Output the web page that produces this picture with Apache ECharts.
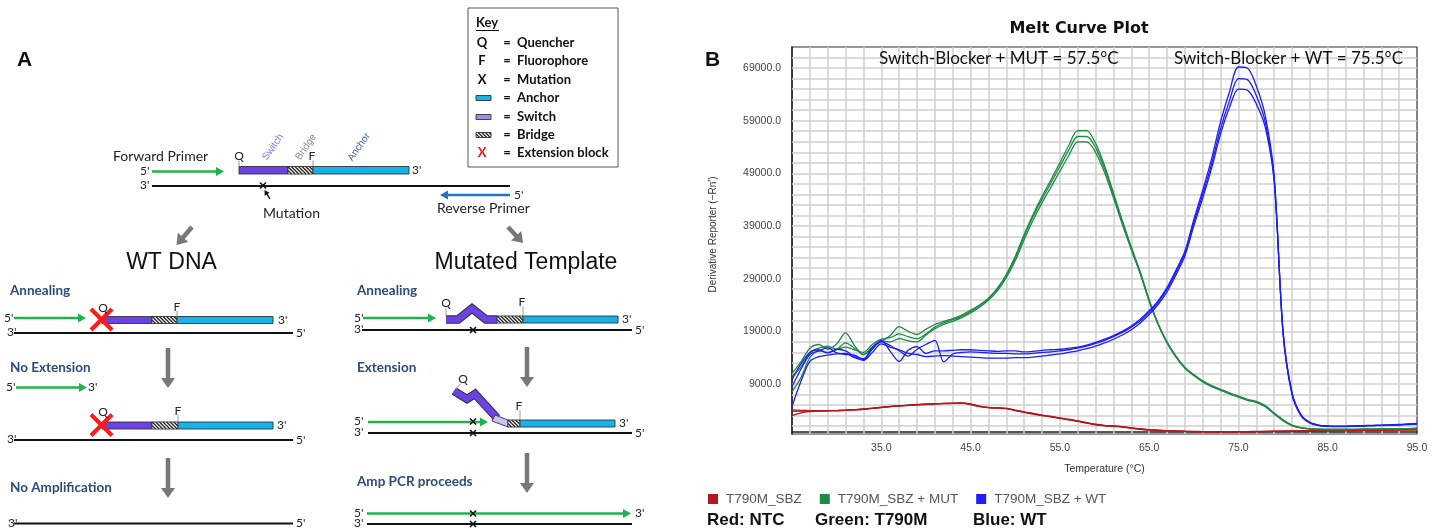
<!DOCTYPE html>
<html>
<head>
<meta charset="utf-8">
<script src="https://cdn.jsdelivr.net/npm/echarts@6/dist/echarts.min.js"></script>
<style>
html, body { margin: 0; padding: 0; background: #fff; }
#main { width: 1435px; height: 531px; }
</style>
</head>
<body>
<div id="main"></div>
<script>
// melt curve data: one value per degree, 25..95 C
var temps = [];
for (var t = 25; t <= 95; t++) temps.push(t);

var ntc1 = [4100, 4000, 3950, 3900, 3900, 3950, 4000, 4100, 4200, 4350,
    4550, 4750, 4850, 4950, 5050, 5150, 5250, 5250, 5300, 5400,
    5150, 4750, 4500, 4450, 4350, 4000, 3650, 3350, 3050, 2800,
    2500, 2250, 1950, 1600, 1300, 1100, 1000, 850, 650, 450,
    300, 200, 100, 50, 0, -50, -50, -80, -80, -80,
    -60, -50, -40, -20, 0, 20, 40, 60, 80, 100,
    120, 140, 160, 180, 200, 220, 240, 260, 280, 300, 320];
var ntc2 = [3800, 3850, 3850, 3900, 3950, 3950, 4050, 4100, 4250, 4400,
    4600, 4700, 4800, 4950, 5050, 5100, 5200, 5300, 5350, 5350,
    5100, 4700, 4500, 4400, 4300, 3950, 3600, 3300, 3000, 2750,
    2450, 2200, 1900, 1550, 1250, 1050, 950, 800, 600, 400,
    250, 150, 80, 30, -20, -60, -80, -100, -100, -100,
    -80, -60, -50, -30, -10, 10, 30, 50, 70, 90,
    110, 130, 150, 170, 190, 210, 230, 250, 270, 290, 310];
var ntc3 = [3000, 3500, 3750, 3850, 3900, 3950, 4000, 4100, 4200, 4350,
    4500, 4700, 4850, 5000, 5100, 5200, 5250, 5300, 5300, 5350,
    5200, 4800, 4550, 4450, 4350, 4050, 3700, 3400, 3100, 2850,
    2550, 2300, 2000, 1650, 1350, 1150, 1050, 900, 700, 500,
    350, 250, 150, 80, 30, 0, -30, -50, -50, -50,
    -40, -30, -20, 0, 20, 40, 60, 80, 100, 120,
    140, 160, 180, 200, 220, 240, 260, 280, 300, 330, 360];

var mut1 = [11000, 13200, 15800, 16500, 15600, 16600, 18700, 16300, 14600, 16000,
    17100, 18200, 19900, 19000, 18400, 19400, 20300, 20900, 21400, 22100,
    23000, 24000, 25300, 27200, 29800, 33200, 37400, 41200, 44600, 47800,
    51000, 54300, 57100, 57100, 54700, 50500, 45300, 40000, 35000, 30300,
    25000, 20500, 17000, 14300, 12200, 10800, 9600, 8700, 8000, 7300,
    6700, 6100, 5700, 4900, 3500, 2200, 1200, 700, 500, 400,
    350, 350, 350, 380, 400, 420, 450, 480, 500, 520, 550];
var mut2 = [10500, 12200, 15000, 15800, 16200, 15600, 16000, 15500, 15000, 16500,
    17500, 17800, 18500, 18000, 17600, 18500, 19800, 20600, 21200, 21900,
    22800, 23900, 25200, 27000, 29600, 32900, 37000, 40800, 44100, 47200,
    50300, 53400, 56000, 56000, 53900, 49900, 44900, 39700, 34800, 30100,
    24900, 20400, 16900, 14200, 12100, 10700, 9500, 8600, 7900, 7200,
    6600, 6000, 5600, 4800, 3400, 2100, 1150, 680, 480, 400,
    360, 360, 370, 390, 410, 430, 460, 490, 510, 530, 560];
var mut3 = [7500, 10200, 14000, 15300, 15000, 15500, 16800, 15800, 14600, 15800,
    17200, 17000, 17600, 17200, 17000, 18300, 19500, 20300, 20900, 21600,
    22500, 23600, 24900, 26700, 29200, 32400, 36400, 40100, 43400, 46400,
    49400, 52400, 55000, 55000, 53000, 49200, 44400, 39300, 34500, 29900,
    24700, 20300, 16800, 14100, 12000, 10600, 9400, 8500, 7800, 7100,
    6500, 5900, 5500, 4700, 3300, 2000, 1100, 650, 450, 380,
    350, 350, 360, 380, 400, 420, 450, 470, 490, 510, 540];

var wt1 = [9800, 12800, 15000, 15500, 14900, 15600, 15300, 14200, 13800, 15600,
    17300, 15200, 13300, 15400, 16100, 14800, 15300, 15300, 15400, 15500,
    15500, 15400, 15300, 15200, 15300, 15300, 15100, 15200, 15400, 15500,
    15600, 15800, 16000, 16400, 16900, 17500, 18200, 19000, 20000, 21300,
    22900, 24800, 27300, 30600, 34200, 40200, 45800, 51800, 58800, 64500,
    69200, 69000, 65600, 60000, 48500, 18500, 7000, 3000, 1600, 1100,
    950, 900, 900, 950, 1000, 1050, 1100, 1150, 1200, 1300, 1400];
var wt2 = [8500, 11800, 14600, 15300, 15900, 14900, 14600, 14500, 13600, 16000,
    17000, 16300, 15300, 14300, 15600, 16500, 17300, 13200, 14700, 15000,
    15100, 15000, 14900, 14800, 14800, 14700, 14700, 14800, 15000, 15100,
    15300, 15500, 15800, 16200, 16700, 17300, 18000, 18800, 19800, 21000,
    22600, 24500, 27000, 30200, 33800, 39600, 45000, 50800, 57500, 62800,
    67000, 66800, 63800, 58800, 48000, 18800, 7200, 3100, 1650, 1150,
    1000, 950, 950, 1000, 1050, 1100, 1150, 1200, 1250, 1350, 1450];
var wt3 = [4700, 9500, 13300, 14200, 14500, 14700, 14800, 14000, 13500, 15000,
    16600, 16000, 15500, 14800, 14600, 14200, 14300, 14400, 14300, 14200,
    14100, 14000, 13900, 13900, 13900, 14000, 14000, 14100, 14300, 14500,
    14700, 15000, 15300, 15700, 16200, 16800, 17500, 18300, 19300, 20600,
    22200, 24100, 26500, 29700, 33300, 39000, 44300, 50000, 56500, 61500,
    65000, 64800, 62200, 57800, 47500, 19000, 7400, 3200, 1700, 1200,
    1050, 1000, 1000, 1050, 1100, 1150, 1200, 1250, 1300, 1400, 1500];

var seriesNames = ['T790M_SBZ', 'T790M_SBZ + MUT', 'T790M_SBZ + WT'];
var xTickLabels = [35, 45, 55, 65, 75, 85, 95];
var yTickLabels = [9000, 19000, 29000, 39000, 49000, 59000, 69000];
var peakNotes = ['Switch-Blocker + MUT = 57.5°C', 'Switch-Blocker + WT = 75.5°C'];
var keyLabels = ['Quencher', 'Fluorophore', 'Mutation', 'Anchor', 'Switch', 'Bridge', 'Extension block'];

// grid of the instrument plot: every 2 C and every 2000 units
var gridTemps = [], gridValues = [];
for (var g = 27; g < 95; g += 2) gridTemps.push(g);
for (var h = 1000; h < 73000; h += 2000) gridValues.push(h);

var FA = 'Lato, "Liberation Sans", sans-serif';
var FB = '"Liberation Sans", Arial, sans-serif';
var GREEN = '#22b24c', PURPLE = '#6c43e2', CYAN = '#14b4ea', GREY = '#787878', LBL = '#2b4c7e';

function T(x, y, s, font, color, align, rot) {
    return {
        type: 'text', x: x, y: y, rotation: rot || 0, silent: true, z: 20,
        style: {
            text: s, font: font, fill: color || '#222',
            align: align || 'left', textAlign: align || 'left',
            verticalAlign: 'middle', textVerticalAlign: 'middle'
        }
    };
}
function L(x1, y1, x2, y2, color, w) {
    return { type: 'line', silent: true, z: 10, shape: { x1: x1, y1: y1, x2: x2, y2: y2 }, style: { stroke: color, lineWidth: w } };
}
function R(x, y, w, h, fill, stroke) {
    return { type: 'rect', silent: true, z: 10, shape: { x: x, y: y, width: w, height: h }, style: { fill: fill, stroke: stroke || null, lineWidth: 0.9 } };
}
function arrow(x1, y1, x2, y2, color, w, hl, hw) {
    var dx = x2 - x1, dy = y2 - y1, len = Math.sqrt(dx * dx + dy * dy);
    var ux = dx / len, uy = dy / len;
    var bx = x2 - ux * hl, by = y2 - uy * hl;
    return [L(x1, y1, bx + ux, by + uy, color, w),
        { type: 'polygon', silent: true, z: 11, shape: { points: [[x2, y2], [bx - uy * hw, by + ux * hw], [bx + uy * hw, by - ux * hw]] }, style: { fill: color } }];
}
function cross(x, y, r, color, w) {
    return [L(x - r, y - r, x + r, y + r, color, w), L(x + r, y - r, x - r, y + r, color, w)];
}
function hatch(x, y, w, h) {
    var els = [R(x, y, w, h, '#fff')];
    for (var c = -h; c < w; c += 3.6) {
        var sx = c < 0 ? 0 : c, sy = c < 0 ? -c : 0;
        var ex = c + h > w ? w : c + h, ey = c + h > w ? w - c : h;
        els.push(L(x + sx, y + sy, x + ex, y + ey, '#222', 1.3));
    }
    els.push(R(x, y, w, h, 'none', '#333'));
    return els;
}
function probe(x0, x1, x2, x3, y, h) {
    return [R(x0, y, x1 - x0, h, PURPLE, '#333')].concat(hatch(x1, y, x2 - x1, h), [R(x2, y, x3 - x2, h, CYAN, '#333')]);
}
function bentStrand(points) {
    return [
        { type: 'polyline', silent: true, z: 10, shape: { points: points }, style: { stroke: '#2a2a2a', lineWidth: 8.5, fill: null } },
        { type: 'polyline', silent: true, z: 10, shape: { points: points }, style: { stroke: PURPLE, lineWidth: 6.5, fill: null } }
    ];
}

var els = [];
function add(a) { els = els.concat(a); }

// ---- panel A ----
add(T(24.5, 60, 'A', 'bold 21px ' + FB, '#111', 'center'));
add(T(113, 156, 'Forward Primer', '14px ' + FA, '#222'));
add(T(140, 171, "5'", '12px ' + FA));
add(arrow(152, 171.5, 224, 171.5, GREEN, 2.6, 8, 4.5));
add(T(239, 156, 'Q', '12px ' + FA, '#222', 'center'));
add(L(239, 160.5, 239, 166.5, '#999', 1));
add(T(312, 156, 'F', '12px ' + FA, '#222', 'center'));
add(L(313, 160.5, 313, 166.5, '#999', 1));
var rot = 55 * Math.PI / 180;
add(T(273, 147, 'Switch', '10px ' + FB, '#8b6cf5', 'center', rot));
add(T(306, 147, 'Bridge', '10px ' + FB, '#8a8a8a', 'center', rot));
add(T(359, 147, 'Anchor', '10px ' + FB, '#3a5aa8', 'center', rot));
add(probe(239, 288, 313, 409, 166.5, 7.5));
add(T(412, 170.5, "3'", '12px ' + FA));
add(T(140, 185.5, "3'", '12px ' + FA));
add(L(152, 186, 510, 186, '#111', 2.2));
add(cross(263, 185.5, 3, '#111', 1.6));
add(arrow(270, 199, 264.5, 190, '#111', 1.4, 5, 2.8));
add(T(263, 213, 'Mutation', '14px ' + FA));
add(arrow(510, 195, 440, 195, '#1f74c9', 2.6, 8, 4.5));
add(T(514, 195, "5'", '12px ' + FA));
add(T(437, 208.5, 'Reverse Primer', '14px ' + FA));

// key box
add(R(468, 8, 150, 159, '#fff', '#444'));
add(T(476, 23, 'Key', 'bold 13px ' + FA, '#111'));
add(L(476, 30.5, 499, 30.5, '#111', 1));
var keyY = [43, 61, 80, 98, 117, 135, 153];
add(T(482, keyY[0], 'Q', 'bold 13px ' + FA, '#111', 'center'));
add(T(482, keyY[1], 'F', 'bold 13px ' + FA, '#111', 'center'));
add(T(482, keyY[2], 'X', 'bold 13px ' + FA, '#111', 'center'));
add(R(476, keyY[3] - 2.5, 15, 5, CYAN, '#333'));
add(R(476, keyY[4] - 2.5, 15, 5, '#9c8ee9', '#333'));
add(hatch(476, keyY[5] - 2.5, 15, 5));
add(T(482, keyY[6], 'X', 'bold 13px ' + FA, '#ee1b1b', 'center'));
for (var k = 0; k < keyLabels.length; k++) {
    add(T(507, keyY[k], '=', 'bold 13px ' + FA, '#111', 'center'));
    add(T(517, keyY[k], keyLabels[k], 'bold 13px ' + FA, '#111'));
}

// big grey arrows and headings
add(arrow(192, 227, 176.5, 245, GREY, 4.5, 10, 7));
add(arrow(508, 227, 523, 243, GREY, 4.5, 10, 7));
add(T(171.5, 263, 'WT DNA', '23px ' + FB, '#111', 'center'));
add(T(526, 263, 'Mutated Template', '23px ' + FB, '#111', 'center'));

// WT column
add(T(10, 291, 'Annealing', 'bold 13.5px ' + FA, LBL));
add(T(4, 318, "5'", '12px ' + FA));
add(arrow(14, 318, 86, 318, GREEN, 2.6, 8, 4.5));
add(probe(102, 152, 177, 273, 316.5, 7));
add(T(278, 320, "3'", '12px ' + FA));
add(T(103, 308, 'Q', '12px ' + FA, '#222', 'center'));
add(T(177, 307, 'F', '12px ' + FA, '#222', 'center'));
add(L(177, 311, 177, 316.5, '#999', 1));
add(cross(101.5, 319.5, 10.5, '#ff1a1a', 4));
add(T(7, 332.5, "3'", '12px ' + FA));
add(L(14, 333, 293, 333, '#111', 2.2));
add(T(296, 333.5, "5'", '12px ' + FA));
add(arrow(168, 348, 168, 388, GREY, 4.5, 10, 7));
add(T(10, 368, 'No Extension', 'bold 13.5px ' + FA, LBL));
add(T(6, 387.5, "5'", '12px ' + FA));
add(arrow(16, 387.5, 87, 387.5, GREEN, 2.6, 8, 4.5));
add(T(88, 387.5, "3'", '12px ' + FA));
add(probe(102, 152, 178, 273, 422, 7));
add(T(103, 412, 'Q', '12px ' + FA, '#222', 'center'));
add(T(178, 411, 'F', '12px ' + FA, '#222', 'center'));
add(L(178, 415, 178, 422, '#999', 1));
add(cross(101.5, 425, 10.5, '#ff1a1a', 4));
add(T(277, 425, "3'", '12px ' + FA));
add(T(7, 439.5, "3'", '12px ' + FA));
add(L(14, 440, 293, 440, '#111', 2.2));
add(T(296, 440.5, "5'", '12px ' + FA));
add(arrow(168, 458, 168, 498, GREY, 4.5, 10, 7));
add(T(10, 488, 'No Amplification', 'bold 13.5px ' + FA, LBL));
add(T(8, 523, "3'", '12px ' + FA));
add(L(14, 523.5, 293, 523.5, '#111', 2.2));
add(T(296, 523.5, "5'", '12px ' + FA));

// mutated column
add(T(357, 291, 'Annealing', 'bold 13.5px ' + FA, LBL));
add(T(354, 318, "5'", '12px ' + FA));
add(arrow(363, 318, 436, 318, GREEN, 2.6, 8, 4.5));
add(bentStrand([[446, 319.5], [458, 319.5], [472, 308.5], [486, 319.5], [497, 319.5]]));
add(hatch(497, 316, 26, 7));
add(R(523, 316, 95, 7, CYAN, '#333'));
add(T(446, 303, 'Q', '12px ' + FA, '#222', 'center'));
add(L(446, 307.5, 446, 315.5, '#999', 1));
add(T(522, 302, 'F', '12px ' + FA, '#222', 'center'));
add(L(523, 306.5, 523, 316, '#999', 1));
add(T(622, 319, "3'", '12px ' + FA));
add(T(354, 329.5, "3'", '12px ' + FA));
add(L(362, 330, 632, 330, '#111', 2.2));
add(cross(473, 330, 3, '#111', 1.6));
add(T(635, 330.5, "5'", '12px ' + FA));
add(arrow(527, 347, 527, 387, GREY, 4.5, 10, 7));
add(T(357, 368, 'Extension', 'bold 13.5px ' + FA, LBL));
add(bentStrand([[454, 391], [467, 399], [475, 394], [497, 418]]));
add({ type: 'polygon', silent: true, z: 10, shape: { points: [[495, 415], [508, 420], [508, 427], [492, 421]] }, style: { fill: '#cdbff5', stroke: '#333', lineWidth: 0.9 } });
add(hatch(508, 420, 12, 7));
add(R(520, 420, 95, 7, CYAN, '#333'));
add(T(463, 379, 'Q', '12px ' + FA, '#222', 'center'));
add(L(460.5, 384, 456, 389, '#999', 1));
add(T(519, 406, 'F', '12px ' + FA, '#222', 'center'));
add(L(520, 410.5, 520, 420, '#999', 1));
add(T(619, 423, "3'", '12px ' + FA));
add(T(354, 421.5, "5'", '12px ' + FA));
add(arrow(368, 422, 488, 422, GREEN, 2.6, 8, 4.5));
add(cross(473, 421.5, 3, '#111', 1.6));
add(T(354, 432.5, "3'", '12px ' + FA));
add(L(368, 433, 632, 433, '#111', 2.2));
add(cross(473, 433, 3, '#111', 1.6));
add(T(635, 433.5, "5'", '12px ' + FA));
add(arrow(527, 453, 527, 493, GREY, 4.5, 10, 7));
add(T(357, 482, 'Amp PCR proceeds', 'bold 13.5px ' + FA, LBL));
add(T(354, 513, "5'", '12px ' + FA));
add(arrow(367, 513.5, 631, 513.5, GREEN, 2.6, 8, 4.5));
add(T(635, 513.5, "3'", '12px ' + FA));
add(cross(473, 513.5, 3, '#111', 1.6));
add(T(354, 523.5, "3'", '12px ' + FA));
add(L(367, 524, 632, 524, '#111', 2.2));
add(cross(473, 524, 3, '#111', 1.6));

// ---- panel B texts ----
add(T(712.5, 60, 'B', 'bold 21px ' + FB, '#111', 'center'));
add(T(1079, 29, 'Melt Curve Plot', 'bold 16px "DejaVu Sans", sans-serif', '#111', 'center'));
add(T(879, 59, peakNotes[0], '17px ' + FA, '#111'));
add(T(1403, 59, peakNotes[1], '17px ' + FA, '#111', 'right'));
add(T(707, 520, 'Red: NTC', 'bold 17px ' + FB, '#111'));
add(T(815, 520, 'Green: T790M', 'bold 17px ' + FB, '#111'));
add(T(973, 520, 'Blue: WT', 'bold 17px ' + FB, '#111'));

function pairs(vals) {
    return temps.map(function (t, i) { return [t, vals[i]]; });
}
var groups = [
    { name: seriesNames[0], color: '#b3161c', reps: [ntc1, ntc2, ntc3] },
    { name: seriesNames[1], color: '#1e8a45', reps: [mut1, mut2, mut3] },
    { name: seriesNames[2], color: '#1c1cff', reps: [wt1, wt2, wt3] }
];

var gridMarks = gridTemps.map(function (v) { return { xAxis: v }; })
    .concat(gridValues.map(function (v) { return { yAxis: v }; }));
var series = [{
    type: 'line', name: 'grid', data: [], z: 1, silent: true,
    markLine: {
        silent: true, z: 1, symbol: ['none', 'none'], label: { show: false },
        lineStyle: { color: '#cfcfcf', width: 1.5, type: 'solid' },
        data: gridMarks
    }
}];
groups.forEach(function (g) {
    g.reps.forEach(function (r) {
        series.push({
            type: 'line', name: g.name, data: pairs(r), smooth: 0.3, symbol: 'none', z: 3,
            lineStyle: { color: g.color, width: 1.3 }, itemStyle: { color: g.color }
        });
    });
});

var myChart = echarts.init(document.getElementById('main'));
myChart.setOption({
    animation: false,
    backgroundColor: '#fff',
    grid: { left: 792, top: 47, right: 18, bottom: 97, show: true, borderColor: '#333', borderWidth: 1.2, backgroundColor: '#fff' },
    legend: {
        data: seriesNames, left: 703, top: 487, icon: 'rect', itemWidth: 10, itemHeight: 10, itemGap: 18,
        selectedMode: false,
        textStyle: { fontFamily: FB, fontSize: 13.5, color: '#555', padding: [0, 0, 0, 3] }
    },
    xAxis: {
        type: 'value', min: 25, max: 95, interval: 1,
        name: 'Temperature (°C)', nameLocation: 'middle', nameGap: 30,
        nameTextStyle: { fontFamily: FB, fontSize: 10.5, color: '#333' },
        axisLine: { show: true, lineStyle: { color: '#222', width: 1.5 } },
        axisTick: { show: false },
        axisLabel: {
            margin: 9, fontFamily: FB, fontSize: 10.5, color: '#444',
            formatter: function (v) { return xTickLabels.indexOf(v) >= 0 ? v.toFixed(1) : ''; }
        },
        splitLine: { show: false }
    },
    yAxis: {
        type: 'value', min: -500, max: 73000, interval: 500,
        name: "Derivative Reporter (\u2212Rn')", nameLocation: 'middle', nameRotate: 90, nameGap: 74,
        nameTextStyle: { fontFamily: FB, fontSize: 10, color: '#333', padding: [0, 0, 0, 12] },
        axisLine: { show: true, lineStyle: { color: '#222', width: 1.5 } },
        axisTick: { show: false },
        axisLabel: {
            margin: 11, fontFamily: FB, fontSize: 10.5, color: '#444',
            formatter: function (v) { return yTickLabels.indexOf(v) >= 0 ? v.toFixed(1) : ''; }
        },
        splitLine: { show: false }
    },
    graphic: { elements: els },
    series: series
});
</script>
</body>
</html>
